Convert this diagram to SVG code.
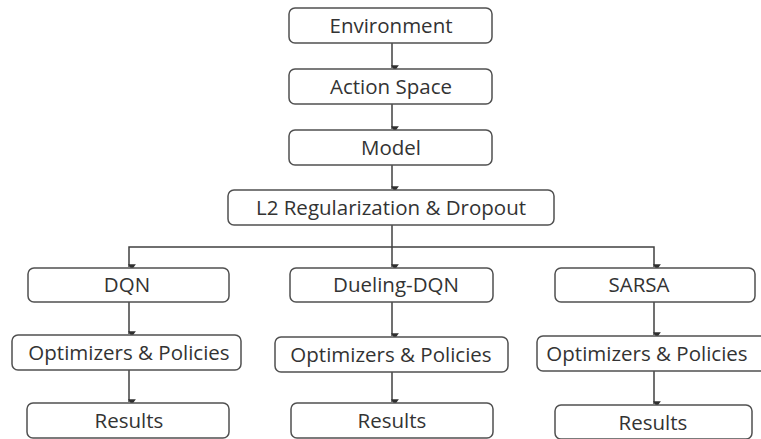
<svg xmlns="http://www.w3.org/2000/svg" width="761" height="439" viewBox="0 0 761 439">
<defs>
<style>
.box{fill:#fff;stroke:#505050;stroke-width:1.5}
.lbl{font-family:"Open Sans","Liberation Sans",sans-serif;font-size:20.5px;fill:#333;text-anchor:middle}
.c{fill:none;stroke:#404040;stroke-width:1.5}
</style>
<marker id="ah" markerUnits="userSpaceOnUse" markerWidth="8" markerHeight="8" refX="3.5" refY="6" orient="auto-start-reverse" viewBox="0 0 7 7">
<path d="M0,1 L7,1 L3.5,6 Z" fill="#303030" transform="rotate(-90 3.5 3.5)"/>
</marker>
</defs>
<rect width="761" height="439" fill="#fff"/>
<g id="connectors">
<line class="c" x1="392" y1="43" x2="392" y2="68" marker-end="url(#ah)"/>
<line class="c" x1="392" y1="104" x2="392" y2="129" marker-end="url(#ah)"/>
<line class="c" x1="392" y1="165" x2="392" y2="189" marker-end="url(#ah)"/>
<line class="c" x1="392" y1="225" x2="392" y2="267" marker-end="url(#ah)"/>
<polyline class="c" points="129,267 129,247 654,247 654,267" marker-start="url(#ah)" marker-end="url(#ah)"/>
<line class="c" x1="129" y1="302" x2="129" y2="334" marker-end="url(#ah)"/>
<line class="c" x1="129" y1="370" x2="129" y2="402" marker-end="url(#ah)"/>
<line class="c" x1="392" y1="302" x2="392" y2="336" marker-end="url(#ah)"/>
<line class="c" x1="392" y1="372" x2="392" y2="402" marker-end="url(#ah)"/>
<line class="c" x1="654" y1="302" x2="654" y2="335" marker-end="url(#ah)"/>
<line class="c" x1="654" y1="371" x2="654" y2="404" marker-end="url(#ah)"/>
</g>
<g id="environment"><rect class="box" x="289" y="8" width="203" height="35" rx="6"/><text class="lbl" x="391" y="33">Environment</text></g>
<g id="action-space"><rect class="box" x="289" y="69" width="203" height="35" rx="6"/><text class="lbl" x="391" y="94">Action Space</text></g>
<g id="model"><rect class="box" x="289" y="130" width="203" height="35" rx="6"/><text class="lbl" x="391" y="155">Model</text></g>
<g id="l2"><rect class="box" x="228" y="190" width="326" height="35" rx="6"/><text class="lbl" x="391" y="215">L2 Regularization &amp; Dropout</text></g>
<g id="dqn"><rect class="box" x="28" y="268" width="201" height="34" rx="6"/><text class="lbl" x="127" y="292">DQN</text></g>
<g id="opt-dqn"><rect class="box" x="12" y="335" width="229" height="35" rx="6"/><text class="lbl" x="129" y="360">Optimizers &amp; Policies</text></g>
<g id="results-dqn"><rect class="box" x="27" y="403" width="202" height="35" rx="6"/><text class="lbl" x="129" y="428">Results</text></g>
<g id="dueling-dqn"><rect class="box" x="290" y="268" width="203" height="34" rx="6"/><text class="lbl" x="396" y="292">Dueling-DQN</text></g>
<g id="opt-dueling"><rect class="box" x="275" y="337" width="233" height="35" rx="6"/><text class="lbl" x="391" y="362">Optimizers &amp; Policies</text></g>
<g id="results-dueling"><rect class="box" x="291" y="403" width="202" height="35" rx="6"/><text class="lbl" x="392" y="428">Results</text></g>
<g id="sarsa"><rect class="box" x="555" y="268" width="200" height="34" rx="6"/><text class="lbl" x="639" y="292">SARSA</text></g>
<g id="opt-sarsa"><rect class="box" x="537" y="336" width="232" height="35" rx="6"/><text class="lbl" x="647" y="361">Optimizers &amp; Policies</text></g>
<g id="results-sarsa"><rect class="box" x="555" y="405" width="197" height="34" rx="6"/><text class="lbl" x="653" y="430">Results</text></g>
</svg>
